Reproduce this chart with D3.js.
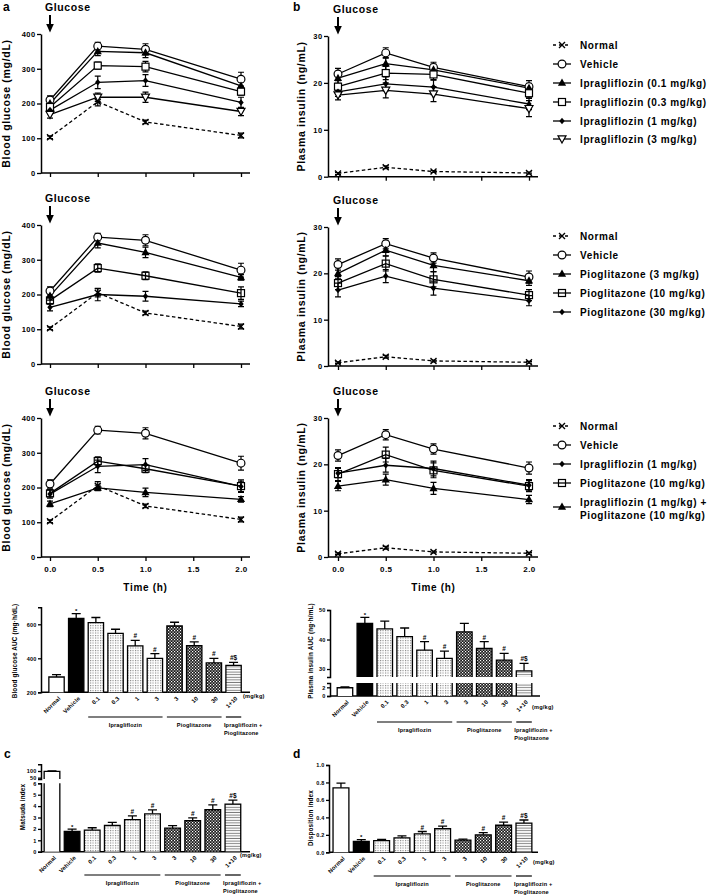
<!DOCTYPE html>
<html><head><meta charset="utf-8">
<script src="https://cdn.jsdelivr.net/npm/d3@7"></script>
<style>
body{margin:0;background:#fff}
svg{display:block}
text{font-family:'Liberation Sans',Arial,Helvetica,sans-serif;font-weight:bold;fill:#000}
</style>
</head><body>
<script>
// ---------------- DATA ----------------
const timeTicks = [0, 0.5, 1, 1.5, 2];
const timePts = [0, 0.5, 1, 2];
const glucoseTicks = [0, 100, 200, 300, 400];
const insulinTicks = [0, 10, 20, 30];

const normalGlu = [103, 205, 147, 108];
const normalGluErr = [4, 12, 5, 7];
const vehicleGlu = [210, 365, 356, 270];
const vehicleGluErr = [12, 11, 16, 20];
const ipra01Glu = [200, 350, 346, 251];
const ipra01GluErr = [10, 12, 14, 10];
const ipra03Glu = [190, 309, 306, 234];
const ipra03GluErr = [12, 10, 15, 10];
const ipra1Glu = [181, 261, 266, 203];
const ipra1GluErr = [12, 18, 17, 15];
const ipra3Glu = [168, 218, 218, 177];
const ipra3GluErr = [10, 12, 15, 12];
const pio3Glu = [196, 348, 321, 249];
const pio3GluErr = [12, 14, 15, 8];
const pio10Glu = [183, 276, 254, 204];
const pio10GluErr = [10, 12, 11, 18];
const pio30Glu = [163, 200, 195, 173];
const pio30GluErr = [10, 18, 14, 8];
const comboGlu = [153, 199, 186, 166];
const comboGluErr = [8, 8, 12, 8];

const normalIns = [0.7, 2.0, 1.1, 0.8];
const normalInsErr = [0.2, 0.3, 0.2, 0.2];
const vehicleIns = [21.9, 26.4, 23.3, 19.2];
const vehicleInsErr = [1.2, 1.1, 1.1, 1.3];
const ipra01Ins = [21.0, 24.1, 22.8, 18.9];
const ipra01InsErr = [1.1, 1.3, 1.2, 1.0];
const ipra03Ins = [19.2, 22.1, 21.8, 17.8];
const ipra03InsErr = [1.3, 1.4, 1.2, 1.0];
const ipra1Ins = [18.1, 19.8, 19.1, 15.5];
const ipra1InsErr = [1.0, 1.5, 1.6, 1.2];
const ipra3Ins = [17.4, 18.4, 17.6, 14.5];
const ipra3InsErr = [1.0, 1.6, 1.6, 1.7];
const pio3Ins = [20.0, 25.0, 21.7, 18.4];
const pio3InsErr = [1.2, 1.2, 1.3, 1.0];
const pio10Ins = [17.9, 22.1, 18.7, 15.3];
const pio10InsErr = [1.4, 1.6, 1.6, 1.2];
const pio30Ins = [16.4, 19.4, 16.8, 14.1];
const pio30InsErr = [1.5, 1.4, 1.5, 1.1];
const comboIns = [15.3, 16.7, 14.8, 12.4];
const comboInsErr = [1.0, 1.2, 1.3, 0.9];

const barLabels = ["Normal", "Vehicle", "0.1", "0.3", "1", "3", "3", "10", "30", "1+10"];
const barFills = ["white", "black", "dots", "dots", "dots", "dots", "check", "check", "check", "stripes"];
const sigMarks = ["", "*", "", "", "#", "#", "", "#", "#", "#$"];
const gluAUC = [290, 635, 610, 547, 473, 400, 590, 475, 373, 358];
const gluAUCErr = [14, 28, 30, 24, 33, 28, 22, 22, 26, 18];
const insAUC = [1.9, 45.5, 43.6, 41.0, 36.4, 33.6, 42.6, 37.0, 33.0, 29.4];
const insAUCErr = [0.2, 2.0, 2.6, 2.9, 2.9, 2.5, 2.9, 2.3, 2.3, 2.5];
const matsuda = [97, 1.78, 1.9, 2.3, 2.82, 3.32, 2.07, 2.72, 3.68, 4.18];
const matsudaErr = [3, 0.2, 0.2, 0.28, 0.32, 0.35, 0.22, 0.25, 0.42, 0.35];
const disposition = [0.738, 0.125, 0.134, 0.165, 0.21, 0.27, 0.14, 0.20, 0.31, 0.335];
const dispositionErr = [0.055, 0.02, 0.015, 0.022, 0.028, 0.03, 0.012, 0.025, 0.035, 0.035];

// ---------------- SETUP ----------------
const svg = d3.select("body").append("svg").attr("width", 709).attr("height", 896);
const defs = svg.append("defs");
{
  const pd = defs.append("pattern").attr("id", "dots").attr("patternUnits", "userSpaceOnUse").attr("width", 2.5).attr("height", 2.5);
  pd.append("rect").attr("width", 2.5).attr("height", 2.5).attr("fill", "#fff");
  pd.append("rect").attr("width", 1.1).attr("height", 1.1).attr("fill", "#808080");
  const pc = defs.append("pattern").attr("id", "check").attr("patternUnits", "userSpaceOnUse").attr("width", 3).attr("height", 3);
  pc.append("rect").attr("width", 3).attr("height", 3).attr("fill", "#1a1a1a");
  pc.append("rect").attr("x", 0).attr("y", 0).attr("width", 1.2).attr("height", 1.2).attr("fill", "#fff");
  pc.append("rect").attr("x", 1.5).attr("y", 1.5).attr("width", 1.2).attr("height", 1.2).attr("fill", "#fff");
  const ps = defs.append("pattern").attr("id", "stripes").attr("patternUnits", "userSpaceOnUse").attr("width", 4).attr("height", 2.6);
  ps.append("rect").attr("width", 4).attr("height", 2.6).attr("fill", "#fff");
  ps.append("rect").attr("y", 0.8).attr("width", 4).attr("height", 0.9).attr("fill", "#777");
}
function fillOf(f) { return f === "white" ? "#fff" : f === "black" ? "#000" : `url(#${f})`; }

function marker(sel, type, cx, cy) {
  const g = sel.append("g").attr("transform", `translate(${cx},${cy})`);
  if (type === "x") g.append("path").attr("d", "M-3,-3L3,3M-3,3L3,-3").attr("stroke", "#000").attr("stroke-width", 1.4).attr("fill", "none");
  else if (type === "circle") g.append("circle").attr("r", 3.9).attr("fill", "#fff").attr("stroke", "#000").attr("stroke-width", 1.2);
  else if (type === "triUp") g.append("path").attr("d", "M0,-4.4L4.1,2.8L-4.1,2.8Z").attr("fill", "#000");
  else if (type === "triDown") g.append("path").attr("d", "M0,4L4,-3.2L-4,-3.2Z").attr("fill", "#fff").attr("stroke", "#000").attr("stroke-width", 1.2);
  else if (type === "square") g.append("rect").attr("x", -3.5).attr("y", -3.5).attr("width", 7).attr("height", 7).attr("fill", "#fff").attr("stroke", "#000").attr("stroke-width", 1.2);
  else if (type === "squareOpen") g.append("rect").attr("x", -3.5).attr("y", -3.5).attr("width", 7).attr("height", 7).attr("fill", "none").attr("stroke", "#000").attr("stroke-width", 1.2);
  else if (type === "diamond") g.append("path").attr("d", "M0,-3.3L2.7,0L0,3.3L-2.7,0Z").attr("fill", "#000");
}

function styleAxis(a, fs) {
  a.selectAll(".domain").attr("stroke", "#000").attr("stroke-width", 1.5);
  a.selectAll(".tick line").attr("stroke", "#000").attr("stroke-width", 1.3);
  a.selectAll(".tick text").attr("font-size", fs).attr("font-family", "'Liberation Sans',Arial,sans-serif").attr("font-weight", "bold").attr("letter-spacing", 0.4).attr("fill", "#000");
}

function lineChart(o) {
  const g = svg.append("g");
  const x = d3.scaleLinear().domain([0, 2]).range(o.xr);
  const y = d3.scaleLinear().domain(o.yd).range(o.yr);
  const ya = g.append("g").attr("transform", `translate(${o.ax},0)`)
    .call(d3.axisLeft(y).tickValues(o.yt).tickSize(4).tickSizeOuter(0).tickPadding(1.5).tickFormat(d3.format("d")));
  styleAxis(ya, 7.5);
  const xa = g.append("g").attr("transform", `translate(0,${o.yr[0]})`)
    .call(d3.axisBottom(x).tickValues(timeTicks).tickSize(4).tickSizeOuter(0).tickPadding(5).tickFormat(o.xLabels ? d3.format(".1f") : () => ""));
  xa.select(".domain").remove();
  styleAxis(xa, 8);
  g.append("line").attr("x1", o.ax).attr("x2", o.xEnd).attr("y1", o.yr[0]).attr("y2", o.yr[0]).attr("stroke", "#000").attr("stroke-width", 1.5);

  // Glucose arrow
  const x0 = x(0), yTop = o.yr[1];
  g.append("text").attr("x", x0 - 5).attr("y", yTop - 23.5).attr("font-size", 10.5).attr("letter-spacing", 0.6).text("Glucose");
  g.append("line").attr("x1", x0).attr("x2", x0).attr("y1", yTop - 19).attr("y2", yTop - 8).attr("stroke", "#000").attr("stroke-width", 2);
  g.append("path").attr("d", `M${x0 - 3.8},${yTop - 10}L${x0 + 3.8},${yTop - 10}L${x0},${yTop - 1.5}Z`).attr("fill", "#000");

  // y title
  const ym = (o.yr[0] + o.yr[1]) / 2;
  g.append("text").attr("transform", `translate(${o.titleX},${ym}) rotate(-90)`).attr("text-anchor", "middle")
    .attr("font-size", 10.5).attr("letter-spacing", 0.7).text(o.title);

  if (o.xLabels) {
    g.append("text").attr("x", (o.xr[0] + o.xr[1]) / 2).attr("y", o.yr[0] + 34).attr("text-anchor", "middle")
      .attr("font-size", 10).attr("letter-spacing", 0.7).text("Time (h)");
  }

  const line = d3.line().x(d => x(d.t)).y(d => y(d.v));
  const all = o.series.map(s => timePts.map((t, i) => ({ t, v: s.v[i], e: s.e[i] })));
  o.series.forEach((s, si) => {
    const pts = all[si];
    g.append("path").datum(pts).attr("d", line).attr("fill", "none").attr("stroke", "#000")
      .attr("stroke-width", 1.3).attr("stroke-dasharray", s.dash ? "3.5,2.5" : null);
    pts.forEach(p => {
      const y1 = y(p.v - p.e), y2 = y(p.v + p.e), xx = x(p.t);
      g.append("path").attr("d", `M${xx},${y1}L${xx},${y2}M${xx - 3},${y1}L${xx + 3},${y1}M${xx - 3},${y2}L${xx + 3},${y2}`)
        .attr("stroke", "#000").attr("stroke-width", 1.2).attr("fill", "none");
    });
  });
  o.series.forEach((s, si) => {
    all[si].forEach(p => marker(g, s.m, x(p.t), y(p.v)));
  });

  // legend (only for right-hand panels)
  if (!o.legendY || !o.legendY.length) return;
  o.series.forEach((s, si) => {
    const ly = o.legendY[si];
    g.append("line").attr("x1", 553).attr("x2", 571).attr("y1", ly).attr("y2", ly).attr("stroke", "#000")
      .attr("stroke-width", 1.3).attr("stroke-dasharray", s.dash ? "3,3" : null);
    marker(g, s.m, 562, ly);
    const lines = s.name.split("\n");
    const t = g.append("text").attr("x", 580).attr("font-size", 10).attr("letter-spacing", 0.6);
    if (lines.length === 1) t.attr("y", ly + 3.6).text(s.name);
    else {
      t.append("tspan").attr("x", 580).attr("y", ly - 1.5).text(lines[0]);
      t.append("tspan").attr("x", 580).attr("y", ly + 11.8).text(lines[1]);
    }
  });
}

const sNormalG = { name: "Normal", v: normalGlu, e: normalGluErr, m: "x", dash: true };
const sVehicleG = { name: "Vehicle", v: vehicleGlu, e: vehicleGluErr, m: "circle" };
const sNormalI = { name: "Normal", v: normalIns, e: normalInsErr, m: "x", dash: true };
const sVehicleI = { name: "Vehicle", v: vehicleIns, e: vehicleInsErr, m: "circle" };

const row1G = [sNormalG, sVehicleG,
  { name: "Ipragliflozin (0.1 mg/kg)", v: ipra01Glu, e: ipra01GluErr, m: "triUp" },
  { name: "Ipragliflozin (0.3 mg/kg)", v: ipra03Glu, e: ipra03GluErr, m: "square" },
  { name: "Ipragliflozin (1 mg/kg)", v: ipra1Glu, e: ipra1GluErr, m: "diamond" },
  { name: "Ipragliflozin (3 mg/kg)", v: ipra3Glu, e: ipra3GluErr, m: "triDown" }];
const row1I = [sNormalI, sVehicleI,
  { name: "Ipragliflozin (0.1 mg/kg)", v: ipra01Ins, e: ipra01InsErr, m: "triUp" },
  { name: "Ipragliflozin (0.3 mg/kg)", v: ipra03Ins, e: ipra03InsErr, m: "square" },
  { name: "Ipragliflozin (1 mg/kg)", v: ipra1Ins, e: ipra1InsErr, m: "diamond" },
  { name: "Ipragliflozin (3 mg/kg)", v: ipra3Ins, e: ipra3InsErr, m: "triDown" }];
const row2G = [sNormalG, sVehicleG,
  { name: "Pioglitazone (3 mg/kg)", v: pio3Glu, e: pio3GluErr, m: "triUp" },
  { name: "Pioglitazone (10 mg/kg)", v: pio10Glu, e: pio10GluErr, m: "squareOpen" },
  { name: "Pioglitazone (30 mg/kg)", v: pio30Glu, e: pio30GluErr, m: "diamond" }];
const row2I = [sNormalI, sVehicleI,
  { name: "Pioglitazone (3 mg/kg)", v: pio3Ins, e: pio3InsErr, m: "triUp" },
  { name: "Pioglitazone (10 mg/kg)", v: pio10Ins, e: pio10InsErr, m: "squareOpen" },
  { name: "Pioglitazone (30 mg/kg)", v: pio30Ins, e: pio30InsErr, m: "diamond" }];
const row3G = [sNormalG, sVehicleG,
  { name: "Ipragliflozin (1 mg/kg)", v: ipra1Glu, e: ipra1GluErr, m: "diamond" },
  { name: "Pioglitazone (10 mg/kg)", v: pio10Glu, e: pio10GluErr, m: "squareOpen" },
  { name: "Ipragliflozin (1 mg/kg) +\nPioglitazone (10 mg/kg)", v: comboGlu, e: comboGluErr, m: "triUp" }];
const row3I = [sNormalI, sVehicleI,
  { name: "Ipragliflozin (1 mg/kg)", v: ipra1Ins, e: ipra1InsErr, m: "diamond" },
  { name: "Pioglitazone (10 mg/kg)", v: pio10Ins, e: pio10InsErr, m: "squareOpen" },
  { name: "Ipragliflozin (1 mg/kg) +\nPioglitazone (10 mg/kg)", v: comboIns, e: comboInsErr, m: "triUp" }];

const gTitle = "Blood glucose (mg/dL)", iTitle = "Plasma insulin (ng/mL)";
lineChart({ xr: [50, 241], ax: 41, xEnd: 250, yd: [0, 400], yr: [173, 34], yt: glucoseTicks, series: row1G, legendY: [], title: gTitle, titleX: 10, xLabels: false });
lineChart({ xr: [338, 529], ax: 328, xEnd: 538, yd: [0, 30], yr: [176.7, 36], yt: insulinTicks, series: row1I, legendY: [45, 64, 83, 102, 121, 139], title: iTitle, titleX: 304.5, xLabels: false });
lineChart({ xr: [50, 241], ax: 41, xEnd: 250, yd: [0, 400], yr: [364, 225], yt: glucoseTicks, series: row2G, legendY: [], title: gTitle, titleX: 10, xLabels: false });
lineChart({ xr: [338, 529], ax: 328, xEnd: 538, yd: [0, 30], yr: [366, 227], yt: insulinTicks, series: row2I, legendY: [236, 255, 274, 293, 312], title: iTitle, titleX: 304.5, xLabels: false });
lineChart({ xr: [50, 241], ax: 41, xEnd: 250, yd: [0, 400], yr: [557, 418], yt: glucoseTicks, series: row3G, legendY: [], title: gTitle, titleX: 10, xLabels: true });
lineChart({ xr: [338, 529], ax: 328, xEnd: 538, yd: [0, 30], yr: [557, 418], yt: insulinTicks, series: row3I, legendY: [426, 445, 464, 483, 507], title: iTitle, titleX: 304.5, xLabels: true });

svg.append("text").attr("x", 3).attr("y", 11).attr("font-size", 12).text("a");
svg.append("text").attr("x", 293).attr("y", 11).attr("font-size", 12).text("b");
svg.append("text").attr("x", 4).attr("y", 758).attr("font-size", 12).text("c");
svg.append("text").attr("x", 293).attr("y", 758).attr("font-size", 12).text("d");

// ---------------- BAR CHARTS ----------------
function barChart(o) {
  const g = svg.append("g");
  const x = d3.scaleBand().domain(d3.range(barLabels.length)).range(o.xr).paddingInner(0.22).paddingOuter(0.11);
  const segs = o.segs.map(s => Object.assign({}, s, { sc: d3.scaleLinear().domain(s.d).range(s.r) }));
  const base = segs[0].r[0];
  segs.forEach(s => {
    const a = g.append("g").attr("transform", `translate(${o.ax},0)`)
      .call(d3.axisLeft(s.sc).tickValues(s.t).tickSize(3).tickSizeOuter(3).tickPadding(1.5).tickFormat(s.f || d3.format("d")));
    styleAxis(a, 5.5);
    a.selectAll(".tick text").attr("letter-spacing", 0.2);
  });
  g.append("line").attr("x1", o.ax).attr("x2", o.xEnd).attr("y1", base).attr("y2", base).attr("stroke", "#000").attr("stroke-width", 1.5);

  const bw = x.bandwidth();
  o.v.forEach((v, i) => {
    const bx = x(i), e = o.e[i];
    segs.forEach(s => {
      if (v <= s.d[0]) return;
      const inSeg = v <= s.d[1];
      const yTop = s.sc(inSeg ? v : s.d[1]), yBot = s.sc(s.d[0]);
      g.append("rect").attr("x", bx).attr("y", yTop).attr("width", bw).attr("height", yBot - yTop).attr("fill", fillOf(barFills[i]));
      let d = `M${bx},${yBot}L${bx},${yTop}`;
      d += inSeg ? `L${bx + bw},${yTop}` : `M${bx + bw},${yTop}`;
      d += `L${bx + bw},${yBot}`;
      g.append("path").attr("d", d).attr("fill", "none").attr("stroke", "#000").attr("stroke-width", 1.3);
      if (inSeg) {
        const cx = bx + bw / 2, ye = s.sc(v + e);
        g.append("path").attr("d", `M${cx},${yTop}L${cx},${ye}M${cx - 4.5},${ye}L${cx + 4.5},${ye}`)
          .attr("stroke", "#000").attr("stroke-width", 1.3).attr("fill", "none");
        if (sigMarks[i]) {
          g.append("text").attr("x", cx).attr("y", ye - (sigMarks[i] === "*" ? 0.5 : 2)).attr("text-anchor", "middle")
            .attr("font-size", sigMarks[i] === "*" ? 6 : 6.5).attr("font-weight", "normal").text(sigMarks[i]);
        }
      }
    });
    g.append("text").attr("transform", `translate(${bx + bw / 2 + 3},${base + 5}) rotate(-45)`)
      .attr("text-anchor", "end").attr("dy", "0.35em").attr("font-size", 5.8).attr("letter-spacing", 0.2).text(barLabels[i]);
  });

  g.append("text").attr("x", o.mgX).attr("y", o.mgY).attr("font-size", 5.6).attr("letter-spacing", 0.2).text("(mg/kg)");
  // group lines
  const gl = o.groupY;
  const c0 = x(2), c1 = x(5) + bw, p0 = x(6), p1 = x(8) + bw, k0 = x(9), k1 = x(9) + bw;
  [[c0, c1], [p0, p1], [k0, k1]].forEach(([a, b]) => g.append("line").attr("x1", a).attr("x2", b).attr("y1", gl).attr("y2", gl).attr("stroke", "#000").attr("stroke-width", 1.2));
  g.append("text").attr("x", (c0 + c1) / 2).attr("y", gl + 10).attr("text-anchor", "middle").attr("font-size", 5.6).attr("letter-spacing", 0.15).text("Ipragliflozin");
  g.append("text").attr("x", (p0 + p1) / 2).attr("y", gl + 10).attr("text-anchor", "middle").attr("font-size", 5.6).attr("letter-spacing", 0.15).text("Pioglitazone");
  g.append("text").attr("x", k0 - 2).attr("y", gl + 10).attr("font-size", 5.6).attr("letter-spacing", 0.15).text("Ipragliflozin +");
  g.append("text").attr("x", k0 - 2).attr("y", gl + 18).attr("font-size", 5.6).attr("letter-spacing", 0.15).text("Pioglitazone");

  g.append("text").attr("transform", `translate(${o.titleX},${o.titleY}) rotate(-90)`).attr("text-anchor", "middle")
    .attr("font-size", 6.3).attr("letter-spacing", 0.2).text(o.title);
}

barChart({
  xr: [46.7, 243.4], ax: 41, xEnd: 250, v: gluAUC, e: gluAUCErr,
  segs: [{ d: [200, 700], r: [692.3, 607.3], t: [200, 400, 600] }],
  mgX: 243, mgY: 698, groupY: 717, title: "Blood glucose AUC (mg·h/dL)", titleX: 17, titleY: 651
});
barChart({
  xr: [335, 534], ax: 330, xEnd: 540, v: insAUC, e: insAUCErr,
  segs: [{ d: [0, 3], r: [696, 683], t: [0, 2] }, { d: [27.3, 50], r: [677, 610], t: [30, 40, 50] }],
  mgX: 532, mgY: 709, groupY: 722, title: "Plasma insulin AUC (ng·h/mL)", titleX: 312.5, titleY: 651
});
barChart({
  xr: [41.95, 242.95], ax: 41, xEnd: 250, v: matsuda, e: matsudaErr,
  segs: [{ d: [0, 6], r: [851.7, 783.3], t: [0, 1, 2, 3, 4, 5, 6] }, { d: [40, 150], r: [779, 764.3], t: [50, 100] }],
  mgX: 240, mgY: 857, groupY: 875, title: "Matsuda index", titleX: 24.5, titleY: 807
});
barChart({
  xr: [330.8, 534.1], ax: 329, xEnd: 538, v: disposition, e: dispositionErr,
  segs: [{ d: [0, 1], r: [852.3, 765], t: [0, 0.2, 0.4, 0.6, 0.8, 1.0], f: d3.format(".1f") }],
  mgX: 533, mgY: 864, groupY: 876, title: "Disposition index", titleX: 312.5, titleY: 818
});
</script>
</body></html>
